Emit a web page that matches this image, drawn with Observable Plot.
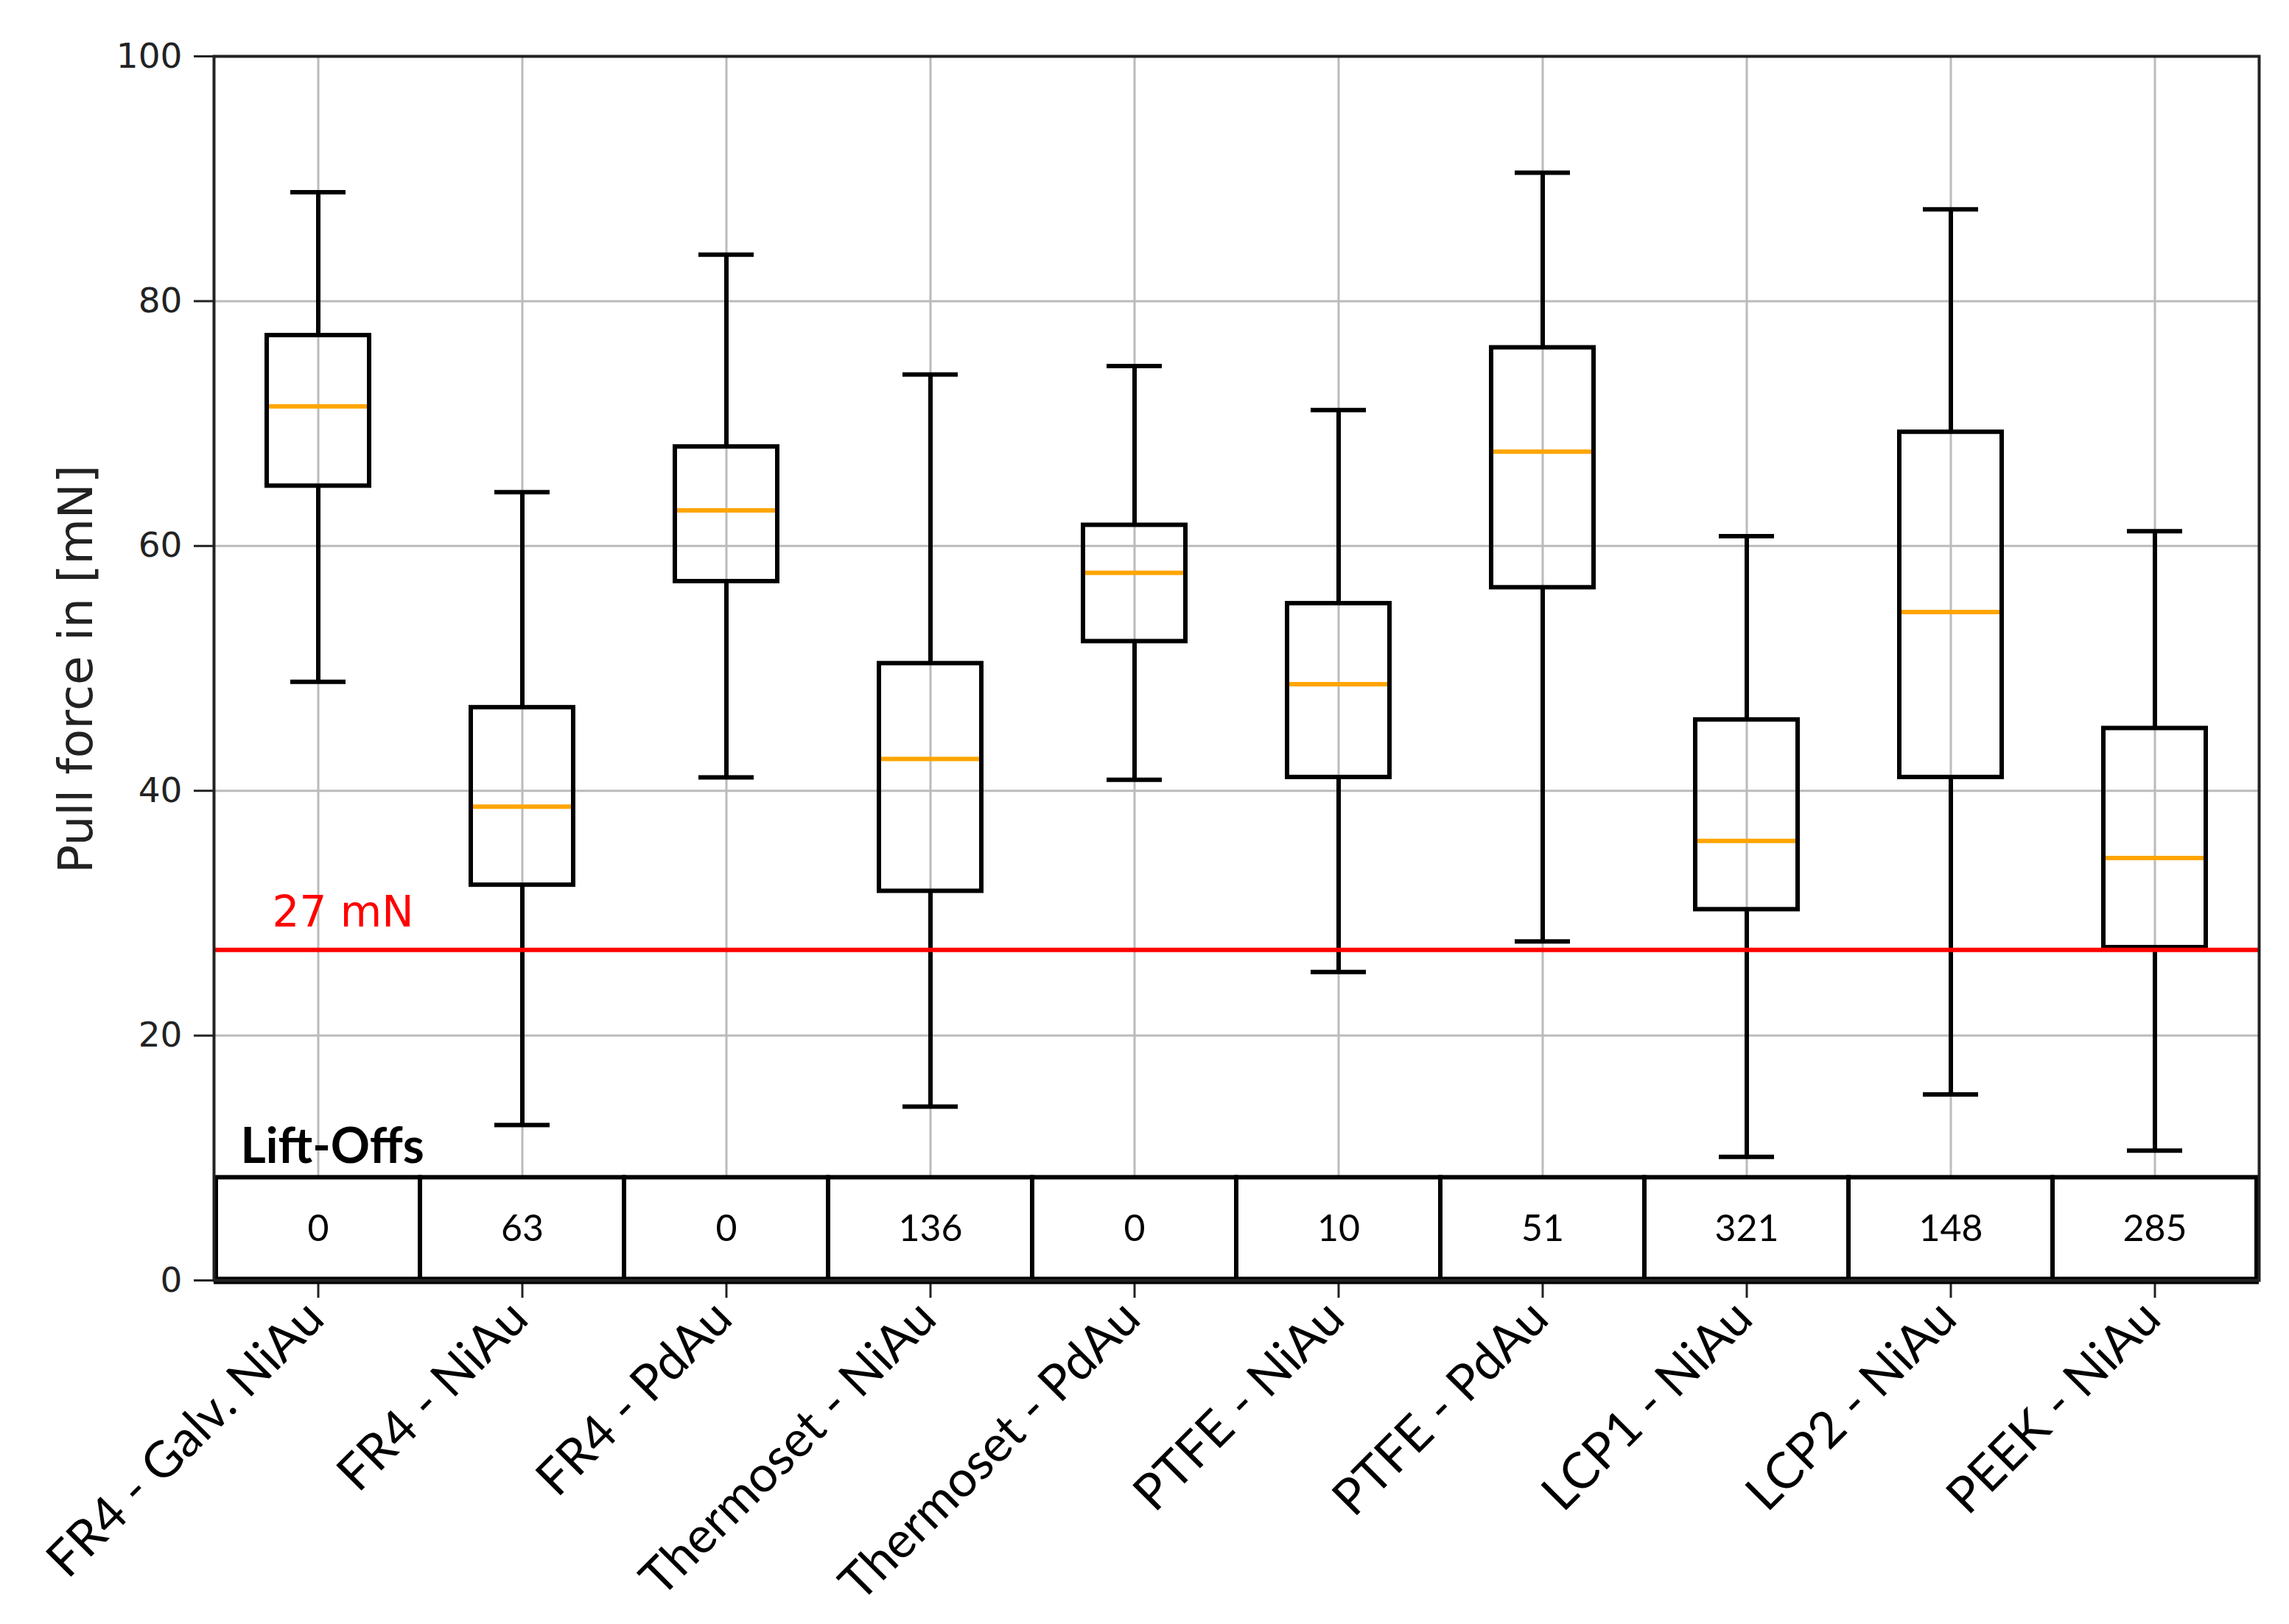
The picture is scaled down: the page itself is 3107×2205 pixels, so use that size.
<!DOCTYPE html>
<html>
<head>
<meta charset="utf-8">
<script src="https://cdn.jsdelivr.net/npm/d3@7"></script>
<script src="https://cdn.jsdelivr.net/npm/@observablehq/plot@0.6"></script>
<style>
  html, body { margin: 0; padding: 0; background: #fff; }
  svg { display: block; }
</style>
</head>
<body>
<div id="chart"></div>
<script>
const categories = ["FR4 - Galv. NiAu", "FR4 - NiAu", "FR4 - PdAu", "Thermoset - NiAu", "Thermoset - PdAu",
                    "PTFE - NiAu", "PTFE - PdAu", "LCP1 - NiAu", "LCP2 - NiAu", "PEEK - NiAu"];
const whiskerLow  = [48.9, 12.7, 41.1, 14.2, 40.9, 25.2, 27.7, 10.1, 15.2, 10.6];
const q1          = [64.9, 32.3, 57.1, 31.8, 52.2, 41.1, 56.6, 30.3, 41.1, 27.2];
const median      = [71.4, 38.7, 62.9, 42.6, 57.8, 48.7, 67.7, 35.9, 54.6, 34.5];
const q3          = [77.2, 46.8, 68.1, 50.4, 61.7, 55.3, 76.2, 45.8, 69.3, 45.1];
const whiskerHigh = [88.9, 64.4, 83.8, 74.0, 74.7, 71.1, 90.5, 60.8, 87.5, 61.2];
const liftOffs    = [0, 63, 0, 136, 0, 10, 51, 321, 148, 285];
const yTicks = [0, 20, 40, 60, 80, 100];
const threshold = 27;
const thresholdLabel = "27 mN";
const yLabel = "Pull force in [mN]";
const tableLabel = "Lift-Offs";
const tableTop = 8.4;
const tableTextY = 4.2;

const rows = categories.map((c, i) => ({
  cat: c, lo: whiskerLow[i], q1: q1[i], med: median[i], q3: q3[i], hi: whiskerHigh[i], lift: liftOffs[i]
}));

const sans = "DejaVu Sans";
const cal = "Lato";

const chart = Plot.plot({
  width: 3107,
  height: 2205,
  marginLeft: 290,
  marginRight: 41,
  marginTop: 76,
  marginBottom: 467,
  style: { background: "#fff", color: "#222" },
  x: { domain: categories, padding: 0 },
  y: { domain: [0, 100] },
  marks: [
    Plot.gridY(yTicks, { stroke: "#bbbbbb", strokeOpacity: 1, strokeWidth: 3 }),
    Plot.gridX(categories, { stroke: "#bbbbbb", strokeOpacity: 1, strokeWidth: 3 }),
    // lift-offs table
    Plot.barY(categories, { x: d => d, y1: 0, y2: tableTop, fill: "white", stroke: "black", strokeWidth: 6 }),
    Plot.text(rows, { x: "cat", y: tableTextY, text: d => String(d.lift), fontSize: 50, fontFamily: cal, fill: "black", lineAnchor: "middle" }),
    Plot.text([tableLabel], { frameAnchor: "left", y: 9.6, dx: 36, text: d => d, textAnchor: "start", lineAnchor: "bottom", fontSize: 66, fontWeight: "bold", fontFamily: cal, fill: "black" }),
    // whiskers
    Plot.ruleX(rows, { x: "cat", y1: "lo", y2: "q1", stroke: "black", strokeWidth: 6 }),
    Plot.ruleX(rows, { x: "cat", y1: "q3", y2: "hi", stroke: "black", strokeWidth: 6 }),
    Plot.tickY(rows, { x: "cat", y: "lo", stroke: "black", strokeWidth: 6, insetLeft: 101, insetRight: 101 }),
    Plot.tickY(rows, { x: "cat", y: "hi", stroke: "black", strokeWidth: 6, insetLeft: 101, insetRight: 101 }),
    // boxes
    Plot.barY(rows, { x: "cat", y1: "q1", y2: "q3", fill: "none", stroke: "black", strokeWidth: 6, insetLeft: 69, insetRight: 69 }),
    Plot.tickY(rows, { x: "cat", y: "med", stroke: "#ffa500", strokeWidth: 6, insetLeft: 72, insetRight: 72 }),
    // threshold
    Plot.ruleY([threshold], { stroke: "#ff0000", strokeWidth: 6 }),
    Plot.text([thresholdLabel], { frameAnchor: "left", y: 28.9, dx: 79, text: d => d, textAnchor: "start", lineAnchor: "bottom", fontSize: 58, fontFamily: sans, fill: "#ff0000" }),
    // axes
    Plot.axisY(yTicks, { tickSize: 27, tickPadding: 16, fontSize: 47, fontFamily: sans, label: null, strokeWidth: 3 }),
    Plot.axisX({ tickSize: 24, tickFormat: () => "", label: null, strokeWidth: 3 }),
    Plot.text(categories, { x: d => d, frameAnchor: "bottom", dy: 40, dx: -4, rotate: -45, text: d => d, textAnchor: "end", lineAnchor: "middle", fontSize: 68, fontFamily: cal, fill: "black" }),
    Plot.text([yLabel], { frameAnchor: "left", dx: -166, dy: 1, rotate: -90, text: d => d, textAnchor: "middle", lineAnchor: "bottom", fontSize: 64, fontFamily: sans, fill: "#222" }),
    Plot.ruleY([0], { stroke: "black", strokeWidth: 10 }),
    Plot.frame({ stroke: "#222", strokeWidth: 4 })
  ]
});
document.getElementById("chart").appendChild(chart);
</script>
</body>
</html>
